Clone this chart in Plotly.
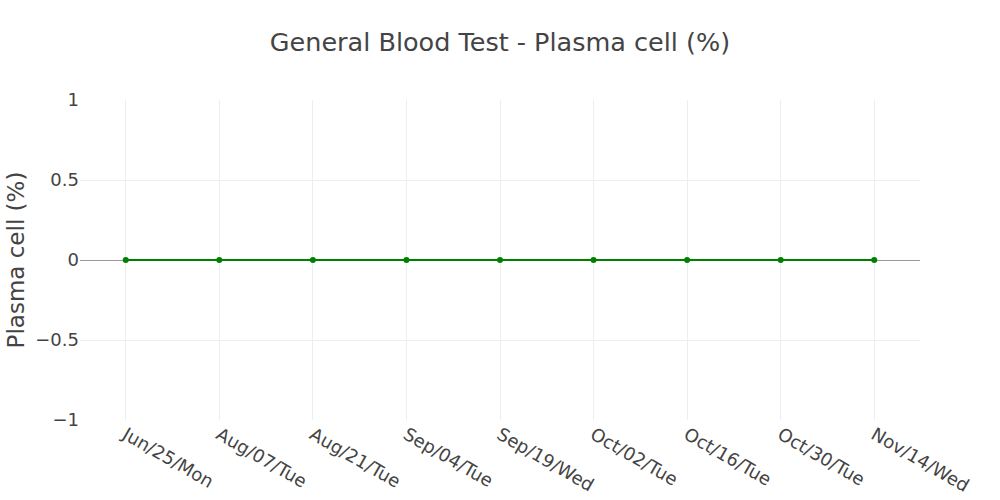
import plotly.graph_objects as go

dates = ["Jun/25/Mon", "Aug/07/Tue", "Aug/21/Tue", "Sep/04/Tue", "Sep/19/Wed",
         "Oct/02/Tue", "Oct/16/Tue", "Oct/30/Tue", "Nov/14/Wed"]
plasma_cell = [0, 0, 0, 0, 0, 0, 0, 0, 0]

FONT = "Verdana, DejaVu Sans, sans-serif"

fig = go.Figure()
fig.add_trace(go.Scatter(
    x=dates, y=plasma_cell, mode="lines+markers",
    line=dict(color="green", width=2),
    marker=dict(color="green", size=6),
))
fig.update_layout(
    width=1000, height=500,
    template="none",
    paper_bgcolor="white", plot_bgcolor="white",
    margin=dict(l=80, r=80, t=100, b=80),
    title=dict(text="General Blood Test - Plasma cell (%)", x=0.5, xanchor="center",
               y=0.915, yanchor="middle",
               font=dict(family=FONT, size=25.5, color="#444")),
    font=dict(family=FONT, color="#444"),
    showlegend=False,
)
fig.update_xaxes(type="category", tickangle=30, tickfont=dict(size=18),
                 showgrid=True, gridcolor="#eee", zeroline=False, showline=False,
                 ticks="")
fig.update_yaxes(range=[-1, 1], tickfont=dict(size=18), dtick=0.5,
                 title=dict(text="Plasma cell (%)", font=dict(size=23)),
                 showgrid=True, gridcolor="#eee", zeroline=True, zerolinecolor="#999",
                 zerolinewidth=1, showline=False, ticks="")
fig.write_html("out.html")
